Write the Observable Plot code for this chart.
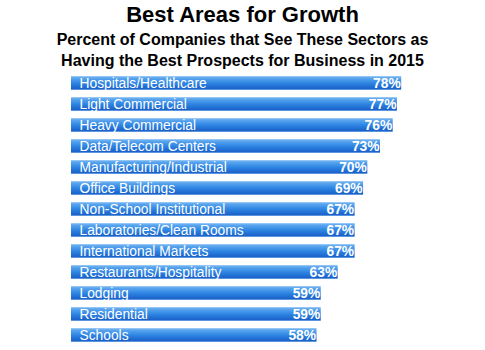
<!DOCTYPE html>
<html>
<head>
<meta charset="utf-8">
<script src="https://cdn.jsdelivr.net/npm/d3@7"></script>
<script src="https://cdn.jsdelivr.net/npm/@observablehq/plot@0.6"></script>
<style>
  html, body { margin: 0; padding: 0; background: #fff; }
  body { width: 485px; height: 350px; overflow: hidden; position: relative; font-family: "Liberation Sans", Arial, Helvetica, sans-serif; }
  #title { position: absolute; left: 0; width: 485px; top: 3px; text-align: center; font-size: 22px; font-weight: bold; line-height: 24px; }
  #sub { position: absolute; left: 0; width: 485px; top: 30px; text-align: center; font-size: 16px; font-weight: bold; line-height: 20.5px; }
  #chart { position: absolute; left: 0; top: 0; }
  #chart svg { display: block; }
</style>
</head>
<body>
<svg width="0" height="0" style="position:absolute">
  <defs>
    <linearGradient id="barGrad" x1="0" y1="0" x2="0" y2="1">
      <stop offset="0" stop-color="#a9d2f7"/>
      <stop offset="0.12" stop-color="#5ea8ef"/>
      <stop offset="0.5" stop-color="#2f86e3"/>
      <stop offset="0.9" stop-color="#1b63cb"/>
      <stop offset="1" stop-color="#7fb0e6"/>
    </linearGradient>
  </defs>
</svg>
<div id="chart"></div>
<div id="title">Best Areas for Growth</div>
<div id="sub">Percent of Companies that See These Sectors as<br>Having the Best Prospects for Business in 2015</div>
<script>
const sectors = [
  "Hospitals/Healthcare",
  "Light Commercial",
  "Heavy Commercial",
  "Data/Telecom Centers",
  "Manufacturing/Industrial",
  "Office Buildings",
  "Non-School Institutional",
  "Laboratories/Clean Rooms",
  "International Markets",
  "Restaurants/Hospitality",
  "Lodging",
  "Residential",
  "Schools"
];
const percents = [78, 77, 76, 73, 70, 69, 67, 67, 67, 63, 59, 59, 58];

const data = sectors.map((s, i) => ({sector: s, value: percents[i]}));

const chart = Plot.plot({
  width: 485,
  height: 350,
  marginLeft: 71,
  marginRight: 0,
  marginTop: 70,
  marginBottom: 3,
  style: {fontFamily: '"Liberation Sans", Arial, Helvetica, sans-serif', background: "transparent"},
  x: {domain: [0, 97.8], axis: null},
  y: {domain: sectors, axis: null, paddingInner: 0.335, paddingOuter: 0},
  marks: [
    Plot.barX(data, {x: "value", y: "sector", fill: "url(#barGrad)"}),
    Plot.text(data, {x: 0, y: "sector", text: "sector", textAnchor: "start", dx: 8, fill: "white", fontSize: 13.8}),
    Plot.text(data, {x: "value", y: "sector", text: d => d.value + "%", textAnchor: "end", dx: -1, fill: "white", fontSize: 13.8, fontWeight: "bold"})
  ]
});
document.getElementById("chart").appendChild(chart);
</script>
</body>
</html>
